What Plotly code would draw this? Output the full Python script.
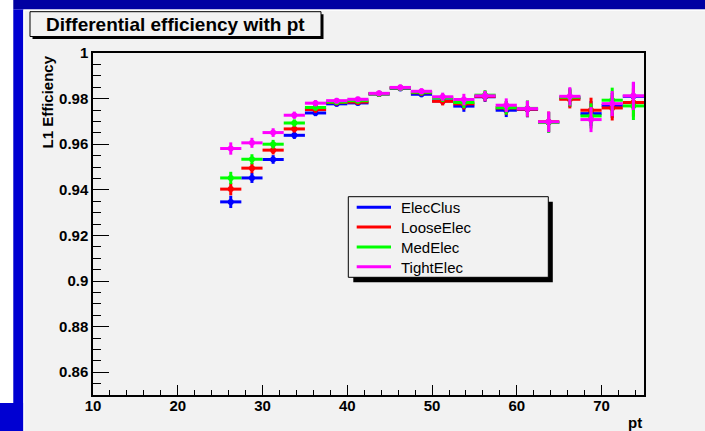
import plotly.graph_objects as go

# pt bin centres (2.5 GeV wide bins from 25 to 75)
pt_centers = [26.25, 28.75, 31.25, 33.75, 36.25, 38.75, 41.25, 43.75, 46.25, 48.75,
              51.25, 53.75, 56.25, 58.75, 61.25, 63.75, 66.25, 68.75, 71.25, 73.75]
pt_half_width = [1.25] * len(pt_centers)

# L1 efficiency per electron definition
eff_elecclus = [0.9347, 0.9452, 0.9533, 0.9639, 0.9737, 0.9777, 0.9781, 0.9820, 0.9845, 0.9819,
                0.9790, 0.9767, 0.9808, 0.9749, 0.9753, 0.9696, 0.9803, 0.9734, 0.9770, 0.9810]
eff_looseelec = [0.9403, 0.9495, 0.9574, 0.9667, 0.9752, 0.9783, 0.9785, 0.9821, 0.9847, 0.9826,
                 0.9788, 0.9777, 0.9810, 0.9759, 0.9754, 0.9698, 0.9797, 0.9749, 0.9759, 0.9783]
eff_medelec = [0.9452, 0.9534, 0.9600, 0.9693, 0.9761, 0.9785, 0.9791, 0.9821, 0.9847, 0.9828,
               0.9803, 0.9783, 0.9815, 0.9760, 0.9757, 0.9695, 0.9806, 0.9724, 0.9793, 0.9768]
eff_tightelec = [0.9581, 0.9606, 0.9651, 0.9727, 0.9780, 0.9791, 0.9797, 0.9823, 0.9849, 0.9832,
                 0.9808, 0.9796, 0.9812, 0.9771, 0.9756, 0.9698, 0.9810, 0.9708, 0.9778, 0.9812]

# statistical uncertainty per bin
eff_err = [0.0027, 0.0022, 0.0019, 0.0016, 0.0014, 0.0012, 0.0011, 0.0012, 0.0013, 0.0013,
           0.0018, 0.0025, 0.0022, 0.0030, 0.0035, 0.0045, 0.0040, 0.0055, 0.0055, 0.0062]

series_names = ["ElecClus", "LooseElec", "MedElec", "TightElec"]
series_values = [eff_elecclus, eff_looseelec, eff_medelec, eff_tightelec]
series_colors = ["#0000ff", "#ff0000", "#00ff00", "#ff00ff"]

y_tick_vals = [0.86, 0.88, 0.90, 0.92, 0.94, 0.96, 0.98, 1.00]
y_tick_text = ["0.86", "0.88", "0.9", "0.92", "0.94", "0.96", "0.98", "1"]
x_tick_vals = [10, 20, 30, 40, 50, 60, 70]
x_tick_text = ["10", "20", "30", "40", "50", "60", "70"]

# canvas geometry in pixels
W, H = 705, 431
ML, MR, MT, MB = 93, 61, 53, 36
PW, PH = W - ML - MR, H - MT - MB

FONT = "Liberation Sans, Arial, Helvetica, sans-serif"
PAD = "#f2f2f2"

# legend box geometry (pixels)
LEG_X0, LEG_Y0, LEG_X1, LEG_Y1 = 348.3, 196.7, 548.3, 277.3
LEG_ROW0, LEG_ROW_STEP = 207.3, 19.8
LEG_LINE_X0, LEG_LINE_X1, LEG_TEXT_X = 356.7, 391.0, 399.3


def px(x):
    return (x - ML) / PW


def py(y):
    return (H - MB - y) / PH


fig = go.Figure()

for name, vals, col in zip(series_names, series_values, series_colors):
    fig.add_trace(go.Scatter(
        x=pt_centers, y=vals, mode="markers", name=name,
        marker=dict(size=0, color=col),
        error_x=dict(type="data", array=pt_half_width, thickness=3, width=0, color=col),
        error_y=dict(type="data", array=eff_err, thickness=3, width=0, color=col),
        showlegend=False, hoverinfo="x+y",
    ))


def rect(x0, y0, x1, y1, fill, line_color=None, line_width=0, layer="below"):
    return dict(type="rect", xref="paper", yref="paper",
                x0=px(x0), x1=px(x1), y0=py(y1), y1=py(y0),
                fillcolor=fill, layer=layer,
                line=dict(color=line_color or fill, width=line_width))


shapes = [
    # canvas border
    rect(0, 0, 13.3, 403, "#ffffff"),
    rect(13.3, 0, W, 9.4, "#0000a2"),
    rect(13.3, 9.4, 23.3, H, "#0000d2"),
    rect(0, 403, 23.3, H, "#0000d2"),
    rect(23.3, 9.4, W, 10.8, "#ffffff"),
    rect(23.3, 10.8, 24.6, H, "#ffffff"),
    # title box with shadow
    rect(32.5, 14.2, 323.5, 39, "#000000"),
    rect(30, 11.7, 321, 36.5, PAD, "#000000", 1),
    # legend box with shadow
    rect(LEG_X0 + 5, LEG_Y0 + 5, LEG_X1 + 4.5, LEG_Y1 + 5, "#000000", layer="above"),
    rect(LEG_X0, LEG_Y0, LEG_X1, LEG_Y1, PAD, "#000000", 1, layer="above"),
]

annotations = [
    dict(text="<b>Differential efficiency with pt</b>", xref="paper", yref="paper",
         x=px(175.5), y=py(24.3), xanchor="center", yanchor="middle", showarrow=False,
         font=dict(family=FONT, size=19, color="black")),
    dict(text="<b>L1 Efficiency</b>", xref="paper", yref="paper", textangle=-90,
         x=px(47), y=py(54), xanchor="center", yanchor="top", showarrow=False,
         font=dict(family=FONT, size=15, color="black")),
    dict(text="<b>pt</b>", xref="paper", yref="paper",
         x=px(643.5), y=py(422), xanchor="right", yanchor="middle", showarrow=False,
         font=dict(family=FONT, size=15, color="black")),
]

# legend rows: coloured line sample plus series name
for i, (name, col) in enumerate(zip(series_names, series_colors)):
    row_y = LEG_ROW0 + i * LEG_ROW_STEP
    shapes.append(dict(type="line", xref="paper", yref="paper", layer="above",
                       x0=px(LEG_LINE_X0), x1=px(LEG_LINE_X1), y0=py(row_y), y1=py(row_y),
                       line=dict(color=col, width=3)))
    annotations.append(dict(text=name, xref="paper", yref="paper",
                            x=px(LEG_TEXT_X), y=py(row_y + 0.5), xanchor="left", yanchor="middle",
                            showarrow=False,
                            font=dict(family=FONT, size=15, color="black")))

axis_common = dict(showline=True, linecolor="black", linewidth=1.5, mirror=True,
                   ticks="inside", tickcolor="black", tickwidth=1,
                   showgrid=False, zeroline=False,
                   tickfont=dict(family=FONT, size=15, color="black", weight="bold"))

fig.update_layout(
    width=W, height=H,
    margin=dict(l=ML, r=MR, t=MT, b=MB, autoexpand=False),
    paper_bgcolor=PAD, plot_bgcolor=PAD,
    shapes=shapes, annotations=annotations,
    xaxis=dict(range=[10, 75], tickmode="array", tickvals=x_tick_vals, ticktext=x_tick_text,
               ticklen=10, ticklabelstandoff=-4,
               minor=dict(tickmode="linear", tick0=10, dtick=2, ticks="inside", ticklen=5,
                          tickcolor="black", tickwidth=1, showgrid=False),
               **axis_common),
    yaxis=dict(range=[0.85, 1.0], tickmode="array", tickvals=y_tick_vals, ticktext=y_tick_text,
               ticklen=16,
               minor=dict(tickmode="linear", tick0=0.85, dtick=0.005, ticks="inside", ticklen=8,
                          tickcolor="black", tickwidth=1, showgrid=False),
               **axis_common),
    showlegend=False,
)

fig.write_html("out.html")
